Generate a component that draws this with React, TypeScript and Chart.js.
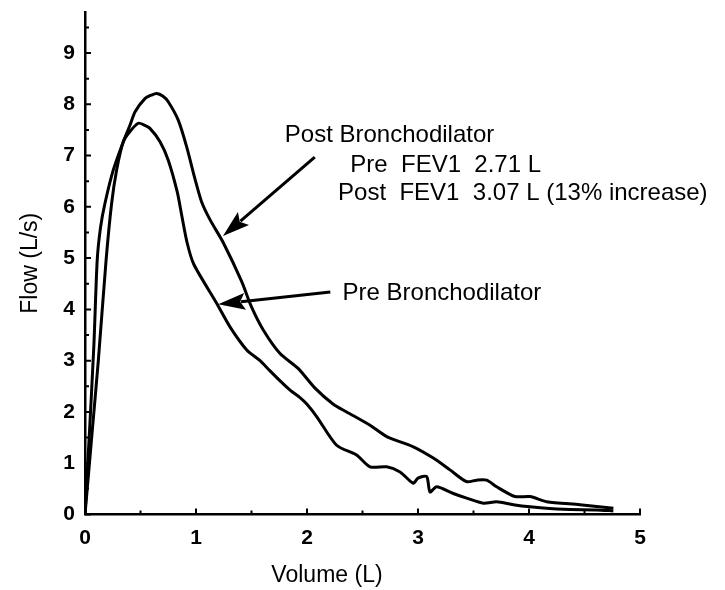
import React, { useEffect, useRef } from "react";
import { Chart, registerables } from "chart.js";

Chart.register(...registerables);

// Post bronchodilator flow-volume curve
const postVolume = [0, 0.04, 0.08, 0.11, 0.14, 0.18, 0.255, 0.345, 0.405, 0.45, 0.54, 0.6, 0.646, 0.7, 0.75, 0.84, 0.916, 0.99, 1.05, 1.126, 1.246, 1.41, 1.5, 1.606, 1.757, 1.92, 2.07, 2.237, 2.357, 2.568, 2.718, 2.958, 3.138, 3.288, 3.438, 3.529, 3.619, 3.709, 3.874, 4.009, 4.159, 4.459, 4.76];
const postFlow = [0, 1.6, 3.3, 4.96, 5.6, 6.07, 6.72, 7.27, 7.59, 7.85, 8.11, 8.18, 8.21, 8.16, 8.05, 7.69, 7.17, 6.55, 6.1, 5.75, 5.3, 4.55, 4.05, 3.6, 3.14, 2.85, 2.47, 2.15, 2.0, 1.74, 1.52, 1.32, 1.1, 0.87, 0.64, 0.67, 0.67, 0.54, 0.35, 0.35, 0.25, 0.19, 0.12];

// Pre bronchodilator flow-volume curve
const preVolume = [0, 0.06, 0.12, 0.19, 0.24, 0.285, 0.345, 0.405, 0.48, 0.53, 0.585, 0.676, 0.75, 0.83, 0.87, 0.92, 0.98, 1.186, 1.306, 1.457, 1.577, 1.667, 1.76, 1.85, 1.937, 2.0, 2.087, 2.267, 2.447, 2.568, 2.718, 2.838, 2.958, 3.0, 3.078, 3.108, 3.168, 3.318, 3.438, 3.589, 3.709, 3.859, 4.009, 4.31, 4.61, 4.76];
const preFlow = [0, 1.5, 3.0, 4.96, 6.07, 6.72, 7.27, 7.47, 7.63, 7.6, 7.53, 7.27, 6.91, 6.3, 5.85, 5.3, 4.88, 4.12, 3.66, 3.21, 3.0, 2.8, 2.6, 2.42, 2.28, 2.15, 1.91, 1.35, 1.16, 0.93, 0.93, 0.83, 0.61, 0.71, 0.74, 0.44, 0.54, 0.41, 0.32, 0.22, 0.25, 0.19, 0.15, 0.1, 0.09, 0.07];

const xTicks = [0, 1, 2, 3, 4, 5];
const yTicks = [0, 1, 2, 3, 4, 5, 6, 7, 8, 9];
const xMinorTicks = [0.5, 1.5, 2.5, 3.5, 4.5];
const yMinorTicks = [0.5, 1.5, 2.5, 3.5, 4.5, 5.5, 6.5, 7.5, 8.5, 9.5];

const xTitle = "Volume (L)";
const yTitle = "Flow (L/s)";

const annotationTexts = [
  "Post Bronchodilator",
  "Pre  FEV1  2.71 L",
  "Post  FEV1  3.07 L (13% increase)",
  "Pre Bronchodilator",
];
const annotationX = [1.8, 2.39, 2.28, 2.32];
const annotationY = [7.4, 6.81, 6.27, 4.32];

const arrowFromX = [2.07, 2.21];
const arrowFromY = [6.97, 4.34];
const arrowToX = [1.243, 1.2];
const arrowToY = [5.43, 4.1];

const FONT = '"Liberation Sans", Arial, Helvetica, sans-serif';

const decorPlugin = {
  id: "decor",
  afterDraw(chart: any) {
    const { ctx, scales, chartArea } = chart;
    const xs = scales.x;
    const ys = scales.y;
    ctx.save();
    ctx.strokeStyle = "#000";
    ctx.fillStyle = "#000";
    // inward ticks
    ctx.lineWidth = 2;
    const left = xs.getPixelForValue(0);
    const bottom = ys.getPixelForValue(0);
    ctx.beginPath();
    yTicks.forEach((v) => {
      const p = ys.getPixelForValue(v);
      ctx.moveTo(left, p);
      ctx.lineTo(left + 6, p);
    });
    yMinorTicks.forEach((v) => {
      const p = ys.getPixelForValue(v);
      ctx.moveTo(left, p);
      ctx.lineTo(left + 4, p);
    });
    xTicks.forEach((v) => {
      const p = xs.getPixelForValue(v);
      ctx.moveTo(p, bottom);
      ctx.lineTo(p, bottom - 6);
    });
    xMinorTicks.forEach((v) => {
      const p = xs.getPixelForValue(v);
      ctx.moveTo(p, bottom);
      ctx.lineTo(p, bottom - 4);
    });
    ctx.stroke();

    // arrows
    for (let i = 0; i < arrowFromX.length; i++) {
      const x1 = xs.getPixelForValue(arrowFromX[i]);
      const y1 = ys.getPixelForValue(arrowFromY[i]);
      const x2 = xs.getPixelForValue(arrowToX[i]);
      const y2 = ys.getPixelForValue(arrowToY[i]);
      const ang = Math.atan2(y2 - y1, x2 - x1);
      const headLen = 27;
      const headW = 8.5;
      const bx = x2 - headLen * Math.cos(ang);
      const by = y2 - headLen * Math.sin(ang);
      ctx.lineWidth = 3;
      ctx.beginPath();
      ctx.moveTo(x1, y1);
      ctx.lineTo(bx + 4 * Math.cos(ang), by + 4 * Math.sin(ang));
      ctx.stroke();
      ctx.beginPath();
      ctx.moveTo(x2, y2);
      ctx.lineTo(bx - headW * Math.sin(ang), by + headW * Math.cos(ang));
      ctx.lineTo(bx + headLen * 0.18 * Math.cos(ang), by + headLen * 0.18 * Math.sin(ang));
      ctx.lineTo(bx + headW * Math.sin(ang), by - headW * Math.cos(ang));
      ctx.closePath();
      ctx.fill();
    }

    // annotation texts
    ctx.font = `24px ${FONT}`;
    ctx.textAlign = "left";
    ctx.textBaseline = "middle";
    annotationTexts.forEach((t, i) => {
      ctx.fillText(t, xs.getPixelForValue(annotationX[i]), ys.getPixelForValue(annotationY[i]));
    });

    // x title
    ctx.textAlign = "center";
    ctx.font = `23px ${FONT}`;
    ctx.fillText(xTitle, xs.getPixelForValue(2.18), chartArea.bottom + 61);
    ctx.restore();
  },
};

export default function App() {
  const canvasRef = useRef<HTMLCanvasElement | null>(null);

  useEffect(() => {
    if (!canvasRef.current) return;
    const post = postVolume.map((x, i) => ({ x, y: postFlow[i] }));
    const pre = preVolume.map((x, i) => ({ x, y: preFlow[i] }));
    const chart = new Chart(canvasRef.current, {
      type: "line",
      data: {
        datasets: [
          {
            label: "Post Bronchodilator",
            data: post,
            borderColor: "#000",
            borderWidth: 3,
            pointRadius: 0,
            tension: 0.25,
            fill: false,
          },
          {
            label: "Pre Bronchodilator",
            data: pre,
            borderColor: "#000",
            borderWidth: 3,
            pointRadius: 0,
            tension: 0.25,
            fill: false,
          },
        ],
      },
      options: {
        animation: false,
        responsive: true,
        maintainAspectRatio: false,
        layout: { padding: { left: 0, top: 12, right: 85, bottom: 0 } },
        plugins: {
          legend: { display: false },
          tooltip: { enabled: false },
        },
        scales: {
          x: {
            type: "linear",
            min: 0,
            max: 5,
            afterFit: (s: any) => {
              s.height = 75.5;
            },
            afterBuildTicks: (s: any) => {
              s.ticks = xTicks.map((v) => ({ value: v }));
            },
            grid: { display: false, drawTicks: false },
            border: { display: true, color: "#000", width: 2.5 },
            ticks: {
              padding: 11,
              color: "#000",
              font: { family: FONT, size: 21, weight: "bold" },
              maxRotation: 0,
            },
            title: { display: false },
          },
          y: {
            type: "linear",
            min: 0,
            max: 9.8,
            afterFit: (s: any) => {
              s.width = 85;
              s.paddingTop = 0;
              s.paddingBottom = 0;
            },
            afterBuildTicks: (s: any) => {
              s.ticks = yTicks.map((v) => ({ value: v }));
            },
            grid: { display: false, drawTicks: false },
            border: { display: true, color: "#000", width: 2.5 },
            ticks: {
              padding: 10,
              color: "#000",
              font: { family: FONT, size: 21, weight: "bold" },
            },
            title: {
              display: true,
              text: yTitle,
              color: "#000",
              font: { family: FONT, size: 23 },
              padding: { top: 17, bottom: 0 },
            },
          },
        },
      },
      plugins: [decorPlugin],
    });
    return () => chart.destroy();
  }, []);

  return (
    <div style={{ position: "fixed", left: 0, top: 0, width: 725, height: 590, background: "#fff" }}>
      <canvas ref={canvasRef} />
    </div>
  );
}
